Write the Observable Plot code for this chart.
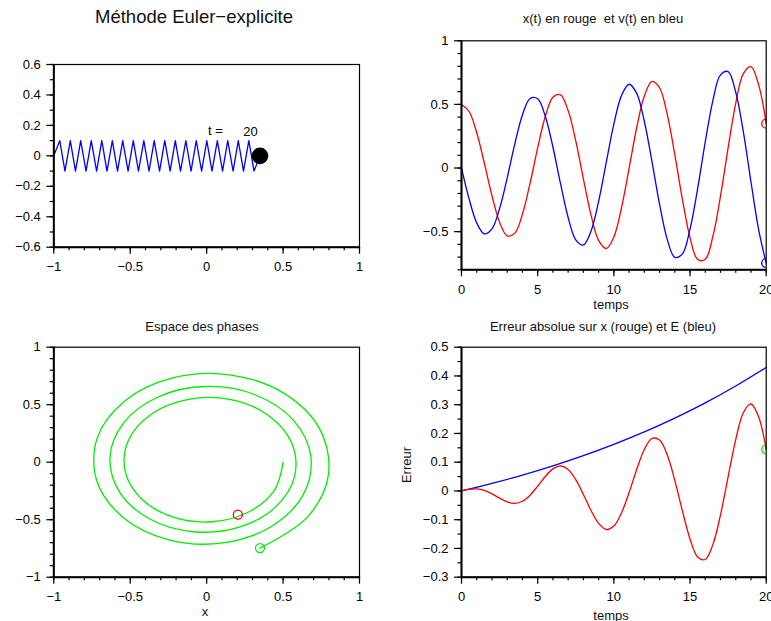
<!DOCTYPE html>
<html><head><meta charset="utf-8">
<script src="https://cdn.jsdelivr.net/npm/d3@7"></script>
<script src="https://cdn.jsdelivr.net/npm/@observablehq/plot@0.6"></script>
<style>
body{margin:0;background:#fff;}
#root{position:relative;width:771px;height:621px;overflow:hidden;font-family:"Liberation Sans",Arial,sans-serif;background:#fff;}
#root > svg, #root > figure{position:absolute;margin:0;}
</style></head><body><div id="root"></div>
<script>
// ---- data ----
const t = [0,0.5,1,1.5,2,2.5,3,3.5,4,4.5,5,5.5,6,6.5,7,7.5,8,8.5,9,9.5,10,
  10.5,11,11.5,12,12.5,13,13.5,14,14.5,15,15.5,16,16.5,17,17.5,18,18.5,19,19.5,20];
const xE = [0.5,0.4444,0.2774,0.0373,-0.2179,-0.4257,-0.5333,-0.5116,-0.3626,-0.1201,
  0.1584,0.4047,0.5570,0.5752,0.4513,0.2126,-0.0849,-0.3688,-0.5686,-0.6326,
  -0.5416,-0.3141,-0.0031,0.3165,0.5659,0.6814,0.6311,0.4232,0.1052,-0.2469,
  -0.5468,-0.7188,-0.7172,-0.5379,-0.2209,0.1590,0.5090,0.7418,0.7968,0.6559,0.3489];
const vE = [0,-0.2427,-0.4312,-0.5178,-0.4784,-0.3194,-0.0774,0.1899,0.4170,0.5466,
  0.5440,0.4067,0.1651,-0.1234,-0.3887,-0.5644,-0.6048,-0.4964,-0.2624,0.0426,
  0.3448,0.5692,0.6583,0.5866,0.3678,0.0524,-0.2840,-0.5585,-0.7018,-0.6748,
  -0.4800,-0.1614,0.2052,0.5303,0.7323,0.7580,0.5967,0.2835,-0.1079,-0.4825,-0.7470];
const errX = [0,0.0056,0.0072,0.0020,-0.0099,-0.0251,-0.0384,-0.0434,-0.0358,-0.0147,
  0.0166,0.0503,0.0769,0.0869,0.0744,0.0392,-0.0121,-0.0678,-0.1130,-0.1341,
  -0.1221,-0.0764,-0.0053,0.0749,0.1440,0.1825,0.1773,0.1257,0.0369,-0.0694,
  -0.1669,-0.2296,-0.2384,-0.1867,-0.0833,0.0492,0.1788,0.2720,0.3025,0.2580,0.1449];
const tE = [0,2,4,6,8,10,12,14,16,18,20];
const errE = [0,0.0263,0.0553,0.0875,0.1230,0.1622,0.2055,0.2534,0.3064,0.3649,0.4296];
const exactX = [0.204];
const exactV = [-0.456];
const springX = [-1,-0.961,-0.927,-0.892,-0.858,-0.824,-0.789,-0.755,-0.720,-0.686,-0.652,
  -0.617,-0.583,-0.549,-0.514,-0.480,-0.446,-0.411,-0.377,-0.343,-0.308,-0.274,-0.239,
  -0.205,-0.171,-0.136,-0.102,-0.068,-0.033,0.001,0.035,0.070,0.104,0.138,0.173,0.207,
  0.241,0.276,0.310,0.349];
const springY = [0,0.1,-0.1,0.1,-0.1,0.1,-0.1,0.1,-0.1,0.1,-0.1,0.1,-0.1,0.1,-0.1,0.1,
  -0.1,0.1,-0.1,0.1,-0.1,0.1,-0.1,0.1,-0.1,0.1,-0.1,0.1,-0.1,0.1,-0.1,0.1,-0.1,0.1,
  -0.1,0.1,-0.1,0.1,-0.1,0];
const timeLabel = ["t =", "20"];
const timeLabelX = [0.058, 0.287];
const timeLabelY = [0.162, 0.157];

// tick labels
const xTicksPos = [-1,-0.5,0,0.5,1];
const yTicksTL = [-0.6,-0.4,-0.2,0,0.2,0.4,0.6];
const xTicksTime = [0,5,10,15,20];
const yTicksTR = [-0.5,0,0.5,1];
const yTicksBL = [-1,-0.5,0,0.5,1];
const yTicksBR = [-0.3,-0.2,-0.1,0,0.1,0.2,0.3,0.4,0.5];

const titles = ["Méthode Euler\u2212explicite", "x(t) en rouge  et v(t) en bleu",
  "Espace des phases", "Erreur absolue sur x (rouge) et E (bleu)"];

// ---- tables ----
const series = t.map((ti, i) => ({t: ti, x: xE[i], v: vE[i], ex: errX[i]}));
const energy = tE.map((ti, i) => ({t: ti, e: errE[i]}));
const spring = springX.map((sx, i) => ({x: sx, y: springY[i]}));
const last = series[series.length - 1];
const ann = timeLabel.map((s, i) => ({x: timeLabelX[i], y: timeLabelY[i], s}));

const RED = "#ff0000", BLUE = "#0000ff", GREEN = "#00ee00";
const root = document.getElementById("root");
const fmt = d => (d < 0 ? "\u2212" : "") + String(Math.abs(d));

function panel(o) {
  const [x0, x1] = o.xDomain, [y0, y1] = o.yDomain;
  const fig = Plot.plot({
    width: o.width, height: o.height,
    marginLeft: o.ml, marginRight: o.mr, marginTop: o.mt, marginBottom: o.mb,
    x: {domain: o.xDomain, label: null},
    y: {domain: o.yDomain, label: null},
    style: {fontFamily: "'Liberation Sans', Arial, sans-serif", fontSize: "13px",
            color: "#000", background: "transparent", overflow: "visible"},
    marks: [
      ...o.marks,
      Plot.frame({stroke: "#000", strokeWidth: 1.2}),
      Plot.ruleX([x0], {stroke: "#000", strokeWidth: 2}),
      Plot.ruleY([y0], {stroke: "#000", strokeWidth: 2}),
      Plot.axisX(d3.ticks(x0, x1, o.xMinor), {anchor: "bottom", tickSize: 3.5, tickFormat: () => "", strokeWidth: 1.2, label: null}),
      Plot.axisY(d3.ticks(y0, y1, o.yMinor), {anchor: "left", tickSize: 3.5, tickFormat: () => "", strokeWidth: 1.2, label: null}),
      Plot.axisX(o.xTicks, {anchor: "bottom", tickSize: 7, tickPadding: 8, strokeWidth: 1.2, tickFormat: fmt, label: null}),
      Plot.axisY(o.yTicks, {anchor: "left", tickSize: 7, tickPadding: 6, strokeWidth: 1.2, tickFormat: fmt, label: null})
    ]
  });
  fig.style.left = o.left + "px";
  fig.style.top = o.top + "px";
  root.appendChild(fig);
}

// top-left: spring + mass
panel({left: 0, top: 0, width: 385, height: 300, ml: 53.3, mr: 26, mt: 64, mb: 53.3,
  xDomain: [-1, 1], yDomain: [-0.6, 0.6], xTicks: xTicksPos, yTicks: yTicksTL, xMinor: 20, yMinor: 12,
  marks: [
    Plot.line(spring, {x: "x", y: "y", stroke: BLUE, strokeWidth: 1.3}),
    Plot.dot([last], {x: "x", y: () => 0, r: 8.3, fill: "#000", stroke: "none"}),
    Plot.text(ann, {x: "x", y: "y", text: "s", fontSize: 13, fill: "#000"})
  ]});

// top-right: x(t), v(t)
panel({left: 385, top: 0, width: 386, height: 310, ml: 76, mr: 5.3, mt: 40.3, mb: 40.7,
  xDomain: [0, 20], yDomain: [-0.8, 1], xTicks: xTicksTime, yTicks: yTicksTR, xMinor: 20, yMinor: 18,
  marks: [
    Plot.line(series, {x: "t", y: "x", stroke: RED, strokeWidth: 1.3, curve: "catmull-rom"}),
    Plot.line(series, {x: "t", y: "v", stroke: BLUE, strokeWidth: 1.3, curve: "catmull-rom"}),
    Plot.dot([last], {x: "t", y: "x", r: 4.5, stroke: RED, strokeWidth: 1.3, fill: "none", clip: true}),
    Plot.dot([last], {x: "t", y: "v", r: 4.5, stroke: BLUE, strokeWidth: 1.3, fill: "none", clip: true})
  ]});

// bottom-left: phase space
panel({left: 0, top: 310, width: 385, height: 311, ml: 53.3, mr: 26, mt: 36.7, mb: 44.3,
  xDomain: [-1, 1], yDomain: [-1, 1], xTicks: xTicksPos, yTicks: yTicksBL, xMinor: 20, yMinor: 20,
  marks: [
    Plot.line(series, {x: "x", y: "v", stroke: GREEN, strokeWidth: 1.3, curve: "catmull-rom"}),
    Plot.dot(exactX.map((ex, i) => ({x: ex, v: exactV[i]})), {x: "x", y: "v", r: 4.5, stroke: RED, strokeWidth: 1.3, fill: "none"}),
    Plot.dot([last], {x: "x", y: "v", r: 4.5, stroke: GREEN, strokeWidth: 1.3, fill: "none"})
  ]});

// bottom-right: errors
panel({left: 385, top: 310, width: 386, height: 311, ml: 76, mr: 5.3, mt: 36.7, mb: 44.3,
  xDomain: [0, 20], yDomain: [-0.3, 0.5], xTicks: xTicksTime, yTicks: yTicksBR, xMinor: 20, yMinor: 16,
  marks: [
    Plot.line(energy, {x: "t", y: "e", stroke: BLUE, strokeWidth: 1.3, curve: "catmull-rom"}),
    Plot.line(series, {x: "t", y: "ex", stroke: RED, strokeWidth: 1.3, curve: "catmull-rom"}),
    Plot.dot([last], {x: "t", y: "ex", r: 4.5, stroke: GREEN, strokeWidth: 1.3, fill: "none", clip: true})
  ]});

// titles and axis labels
const ov = d3.select(root).append("svg")
  .attr("width", 771).attr("height", 621)
  .style("left", "0px").style("top", "0px").style("pointer-events", "none")
  .style("font-family", "'Liberation Sans', Arial, sans-serif");
const labels = [
  {s: titles[0], x: 194, y: 22.7, size: 18.5},
  {s: titles[1], x: 603, y: 22.7, size: 13},
  {s: titles[2], x: 202, y: 330.5, size: 13},
  {s: titles[3], x: 603, y: 331, size: 13},
  {s: "temps", x: 611, y: 309, size: 13},
  {s: "x", x: 205, y: 616, size: 13},
  {s: "temps", x: 611, y: 620, size: 13}
];
ov.selectAll("text.l").data(labels).join("text").attr("class", "l")
  .attr("x", d => d.x).attr("y", d => d.y).attr("text-anchor", "middle")
  .attr("font-size", d => d.size).attr("fill", "#111").style("white-space", "pre")
  .text(d => d.s);
ov.append("text").attr("transform", "translate(410.5,465) rotate(-90)")
  .attr("text-anchor", "middle").attr("font-size", 13).attr("fill", "#111").text("Erreur");
</script></body></html>
